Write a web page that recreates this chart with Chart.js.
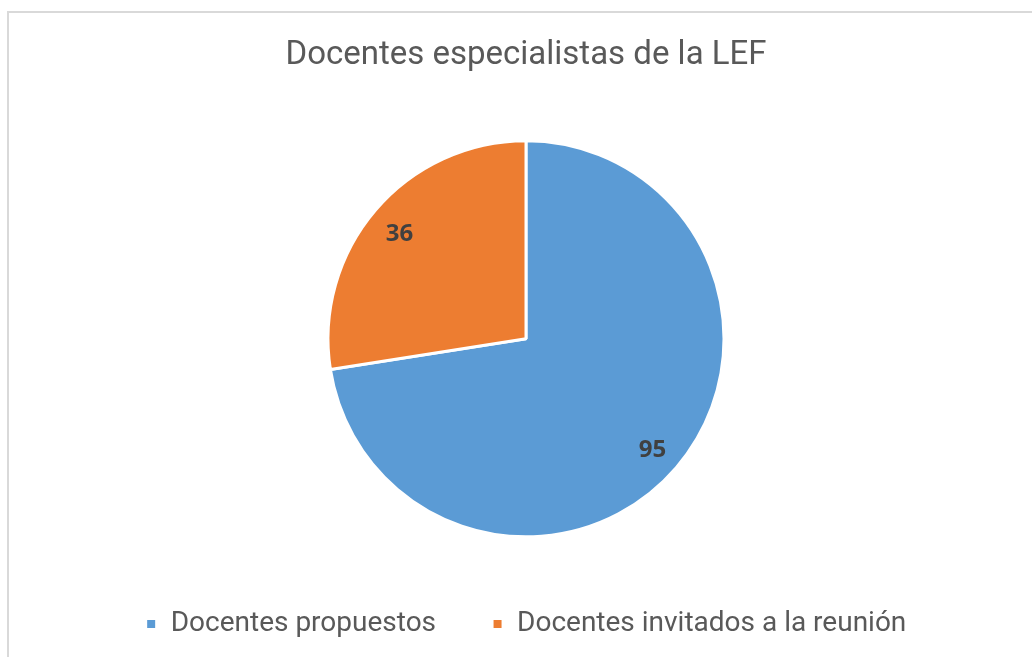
<!DOCTYPE html>
<html>
<head>
<meta charset="utf-8">
<script src="https://cdn.jsdelivr.net/npm/chart.js@4.4.1/dist/chart.umd.min.js"></script>
<style>
  html, body { margin: 0; padding: 0; background: #ffffff; }
  #wrap { width: 1032px; height: 657px; position: relative; }
</style>
</head>
<body>
<div id="wrap"><canvas id="c" width="1032" height="657"></canvas></div>
<script>
const categories = ["Docentes propuestos", "Docentes invitados a la reunión"];
const values = [95, 36];
const colors = ["#5B9BD5", "#ED7D31"];
const chartTitle = "Docentes especialistas de la LEF";

const framePlugin = {
  id: 'frame',
  beforeDraw(chart) {
    const ctx = chart.ctx;
    ctx.save();
    ctx.fillStyle = '#ffffff';
    ctx.fillRect(0, 0, chart.width, chart.height);
    ctx.strokeStyle = '#d9d9d9';
    ctx.lineWidth = 2;
    ctx.strokeRect(8, 12, chart.width + 20, chart.height + 20);
    ctx.restore();
  }
};

const labelPlugin = {
  id: 'sliceLabels',
  afterDatasetsDraw(chart) {
    const ctx = chart.ctx;
    const meta = chart.getDatasetMeta(0);
    ctx.save();
    ctx.font = 'bold 24px "Open Sans", sans-serif';
    ctx.fillStyle = '#404040';
    ctx.textAlign = 'center';
    ctx.textBaseline = 'middle';
    meta.data.forEach((arc, i) => {
      const p = arc.getProps(['x', 'y', 'startAngle', 'endAngle', 'outerRadius'], true);
      const mid = (p.startAngle + p.endAngle) / 2;
      const r = p.outerRadius * 0.84;
      ctx.fillText(String(chart.data.datasets[0].data[i]), p.x + Math.cos(mid) * r, p.y + Math.sin(mid) * r + 3);
    });
    ctx.restore();
  }
};

new Chart(document.getElementById('c'), {
  type: 'pie',
  data: {
    labels: categories,
    datasets: [{
      data: values,
      backgroundColor: colors,
      borderColor: '#ffffff',
      borderWidth: 3
    }]
  },
  options: {
    responsive: false,
    animation: false,
    radius: 198,
    layout: { padding: { left: 20, right: 0, top: 0, bottom: 9 } },
    plugins: {
      title: {
        display: true,
        text: chartTitle,
        color: '#595959',
        font: { family: 'Roboto, "Noto Sans", sans-serif', size: 33, weight: 'normal' },
        padding: { top: 36, bottom: 48 }
      },
      legend: {
        position: 'bottom',
        labels: {
          color: '#595959',
          font: { family: 'Roboto, "Noto Sans", sans-serif', size: 28 },
          boxWidth: 11,
          boxHeight: 11,
          padding: 56
        }
      },
      tooltip: { enabled: false }
    }
  },
  plugins: [framePlugin, labelPlugin]
});
</script>
</body>
</html>
